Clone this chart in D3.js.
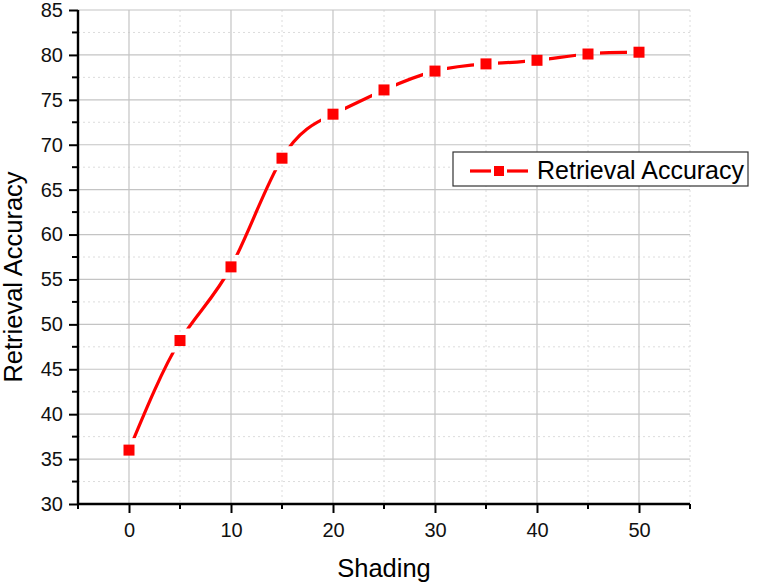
<!DOCTYPE html>
<html>
<head>
<meta charset="utf-8">
<script src="https://cdn.jsdelivr.net/npm/d3@7"></script>
<style>
  body { margin: 0; background: #fff; }
  text { font-family: "Liberation Sans", Arial, sans-serif; }
</style>
</head>
<body>
<script>
// data
var shading = [0, 5, 10, 15, 20, 25, 30, 35, 40, 45, 50];
var accuracy = [36.0, 48.2, 56.4, 68.5, 73.4, 76.1, 78.2, 79.0, 79.4, 80.1, 80.3];
var xTicks = [0, 10, 20, 30, 40, 50];
var yTicks = [30, 35, 40, 45, 50, 55, 60, 65, 70, 75, 80, 85];
var seriesName = "Retrieval Accuracy";

var width = 760, height = 585;
var pLeft = 78, pRight = 690, pTop = 10, pBottom = 504;

var svg = d3.select("body").append("svg")
    .attr("width", width)
    .attr("height", height);

var x = d3.scaleLinear().domain([-5, 55]).range([pLeft, pRight]);
var y = d3.scaleLinear().domain([30, 85]).range([pBottom, pTop]);

var data = shading.map(function(d, i){ return {x: d, y: accuracy[i]}; });

// minor grid (dotted)
var minorX = d3.range(-5, 56, 10);
var minorY = d3.range(32.5, 85, 5);
svg.append("g").selectAll("line").data(minorX).join("line")
    .attr("x1", d => x(d)).attr("x2", d => x(d))
    .attr("y1", pTop).attr("y2", pBottom)
    .attr("stroke", "#dcdcdc").attr("stroke-dasharray", "2,3");
svg.append("g").selectAll("line").data(minorY).join("line")
    .attr("x1", pLeft).attr("x2", pRight)
    .attr("y1", d => y(d)).attr("y2", d => y(d))
    .attr("stroke", "#dcdcdc").attr("stroke-dasharray", "2,3");

// major grid
svg.append("g").selectAll("line").data(xTicks).join("line")
    .attr("x1", d => x(d)).attr("x2", d => x(d))
    .attr("y1", pTop).attr("y2", pBottom)
    .attr("stroke", "#c4c4c4").attr("stroke-width", 1.2);
svg.append("g").selectAll("line").data(yTicks.slice(1)).join("line")
    .attr("x1", pLeft).attr("x2", pRight)
    .attr("y1", d => y(d)).attr("y2", d => y(d))
    .attr("stroke", "#c4c4c4").attr("stroke-width", 1.2);

// mask so the line stops short of the markers
var defs = svg.append("defs");
var mask = defs.append("mask").attr("id", "gap")
    .attr("maskUnits", "userSpaceOnUse")
    .attr("x", 0).attr("y", 0).attr("width", width).attr("height", height);
mask.append("rect").attr("width", width).attr("height", height).attr("fill", "#fff");
mask.selectAll("rect.hole").data(data).join("rect")
    .attr("class", "hole")
    .attr("x", d => x(d.x) - 12).attr("y", d => y(d.y) - 12)
    .attr("width", 24).attr("height", 24).attr("fill", "#000");

var line = d3.line()
    .x(d => x(d.x))
    .y(d => y(d.y))
    .curve(d3.curveNatural);

svg.append("path")
    .datum(data)
    .attr("d", line)
    .attr("fill", "none")
    .attr("stroke", "#ff0000")
    .attr("stroke-width", 3.2)
    .attr("mask", "url(#gap)");

svg.append("g").selectAll("rect").data(data).join("rect")
    .attr("x", d => x(d.x) - 5.5).attr("y", d => y(d.y) - 5.5)
    .attr("width", 11).attr("height", 11)
    .attr("fill", "#ff0000");

// axes
var xAxis = d3.axisBottom(x).tickValues(xTicks).tickSize(9).tickPadding(10);
var gx = svg.append("g").attr("transform", "translate(0," + pBottom + ")").call(xAxis);
gx.append("g").selectAll("line").data(d3.range(-5, 56, 10)).join("line")
    .attr("x1", d => x(d)).attr("x2", d => x(d))
    .attr("y1", 0).attr("y2", 5)
    .attr("stroke", "#000").attr("stroke-width", 2);

var yAxis = d3.axisLeft(y).tickValues(yTicks).tickSize(9).tickPadding(6);
var gy = svg.append("g").attr("transform", "translate(" + pLeft + ",0)").call(yAxis);
gy.append("g").selectAll("line").data(d3.range(32.5, 85, 5)).join("line")
    .attr("x1", 0).attr("x2", -6)
    .attr("y1", d => y(d)).attr("y2", d => y(d))
    .attr("stroke", "#000").attr("stroke-width", 2);

gx.select(".domain").attr("d", "M" + pLeft + ",0H" + pRight);
gy.select(".domain").attr("d", "M0," + pBottom + "V" + pTop);
[gx, gy].forEach(function(g){
    g.attr("font-size", 20).attr("font-family", "'Liberation Sans', Arial, sans-serif");
    g.select(".domain").attr("stroke", "#000").attr("stroke-width", 2.4);
    g.selectAll(".tick line").attr("stroke", "#000").attr("stroke-width", 2);
    g.selectAll(".tick text").attr("fill", "#111");
});

// axis titles
svg.append("text")
    .attr("x", 384).attr("y", 577)
    .attr("text-anchor", "middle")
    .attr("font-size", 25.5)
    .text("Shading");
svg.append("text")
    .attr("transform", "translate(22,277) rotate(-90)")
    .attr("text-anchor", "middle")
    .attr("font-size", 25.5)
    .text("Retrieval Accuracy");

// legend
var legend = svg.append("g");
legend.append("rect")
    .attr("x", 453).attr("y", 152).attr("width", 295).attr("height", 34)
    .attr("fill", "#fff").attr("stroke", "#333").attr("stroke-width", 1.2);
legend.append("line")
    .attr("x1", 470).attr("x2", 491).attr("y1", 171).attr("y2", 171)
    .attr("stroke", "#ff0000").attr("stroke-width", 3.2);
legend.append("line")
    .attr("x1", 507).attr("x2", 528).attr("y1", 171).attr("y2", 171)
    .attr("stroke", "#ff0000").attr("stroke-width", 3.2);
legend.append("rect")
    .attr("x", 494).attr("y", 166).attr("width", 10).attr("height", 10)
    .attr("fill", "#ff0000");
legend.append("text")
    .attr("x", 537).attr("y", 179)
    .attr("font-size", 25)
    .text(seriesName);
</script>
</body>
</html>
